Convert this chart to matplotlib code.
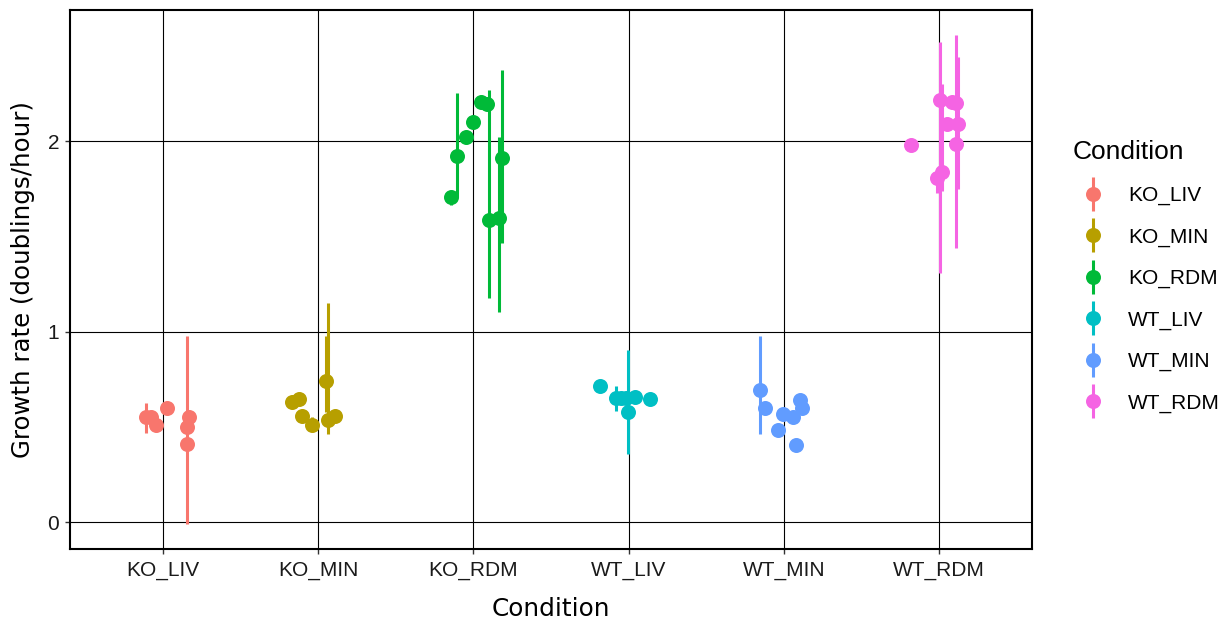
import numpy as np
import matplotlib
matplotlib.use("Agg")
import matplotlib.pyplot as plt
from matplotlib.lines import Line2D
from matplotlib.legend_handler import HandlerTuple

conditions = ["KO_LIV", "KO_MIN", "KO_RDM", "WT_LIV", "WT_MIN", "WT_RDM"]
colors = ["#F8766D", "#B79F00", "#00BA38", "#00BFC4", "#619CFF", "#F564E3"]
nan = np.nan

# per-condition: jitter offset, growth rate, lower, upper
ko_liv_dx = [-0.109, -0.077, -0.045, 0.028, 0.169, 0.153, 0.153]
ko_liv_y = [0.554, 0.552, 0.512, 0.600, 0.554, 0.500, 0.411]
ko_liv_lo = [0.469, nan, nan, nan, nan, -0.009, nan]
ko_liv_hi = [0.627, nan, nan, nan, nan, 0.977, nan]

ko_min_dx = [-0.167, -0.122, -0.105, -0.041, 0.051, 0.066, 0.109]
ko_min_y = [0.631, 0.647, 0.559, 0.510, 0.743, 0.537, 0.559]
ko_min_lo = [nan, nan, nan, 0.505, 0.580, 0.463, nan]
ko_min_hi = [nan, nan, nan, 0.555, 0.977, 1.149, nan]

ko_rdm_dx = [-0.143, -0.108, -0.047, -0.005, 0.050, 0.086, 0.098, 0.167, 0.182]
ko_rdm_y = [1.708, 1.923, 2.023, 2.099, 2.204, 2.193, 1.586, 1.595, 1.910]
ko_rdm_lo = [1.665, 1.708, nan, nan, nan, nan, 1.175, 1.102, 1.464]
ko_rdm_hi = [1.720, 2.251, nan, nan, nan, nan, 2.268, 2.023, 2.373]

wt_liv_dx = [-0.182, -0.084, -0.047, -0.016, -0.005, 0.039, 0.140]
wt_liv_y = [0.715, 0.651, 0.651, 0.651, 0.577, 0.659, 0.647]
wt_liv_lo = [nan, 0.584, nan, nan, 0.358, nan, nan]
wt_liv_hi = [nan, 0.715, nan, nan, 0.904, nan, nan]

wt_min_dx = [-0.150, -0.122, -0.037, -0.006, 0.060, 0.079, 0.107, 0.118]
wt_min_y = [0.694, 0.598, 0.484, 0.568, 0.551, 0.406, 0.642, 0.598]
wt_min_lo = [0.463, nan, nan, nan, nan, nan, nan, nan]
wt_min_hi = [0.977, nan, nan, nan, nan, nan, nan, nan]

wt_rdm_dx = [-0.182, 0.005, 0.017, -0.011, 0.053, 0.086, 0.107, 0.122, 0.107]
wt_rdm_y = [1.980, 2.216, 1.840, 1.805, 2.088, 2.207, 2.198, 2.088, 1.985]
wt_rdm_lo = [nan, 1.310, 1.740, 1.730, nan, nan, 1.440, 1.750, nan]
wt_rdm_hi = [nan, 2.521, 2.300, 1.830, nan, nan, 2.556, 2.440, nan]

groups = [
    (ko_liv_dx, ko_liv_y, ko_liv_lo, ko_liv_hi),
    (ko_min_dx, ko_min_y, ko_min_lo, ko_min_hi),
    (ko_rdm_dx, ko_rdm_y, ko_rdm_lo, ko_rdm_hi),
    (wt_liv_dx, wt_liv_y, wt_liv_lo, wt_liv_hi),
    (wt_min_dx, wt_min_y, wt_min_lo, wt_min_hi),
    (wt_rdm_dx, wt_rdm_y, wt_rdm_lo, wt_rdm_hi),
]

y_ticks = [0, 1, 2]

W, H = 1224, 619
fig = plt.figure(figsize=(W / 100, H / 100), dpi=100)
ax = fig.add_axes([70 / W, (H - 549) / H, (1032 - 70) / W, (549 - 10) / H])

ax.set_xlim(0.4, 6.6)
ax.set_ylim(-0.140, 2.688)

for i, (dx, y, lo, hi) in enumerate(groups):
    xs = np.arange(1, 7)[i] + np.array(dx)
    lo = np.array(lo, dtype=float)
    hi = np.array(hi, dtype=float)
    m = ~np.isnan(lo)
    ax.vlines(xs[m], lo[m], hi[m], color=colors[i], lw=2.2, zorder=3)
    ax.plot(xs, y, 'o', color=colors[i], ms=10.8, mew=0, zorder=4, ls='')

ax.set_xticks(range(1, 7))
ax.set_xticklabels(conditions, fontfamily="Liberation Sans", fontsize=15)
ax.set_yticks(y_ticks)
ax.set_yticklabels([str(v) for v in y_ticks], fontfamily="Liberation Sans", fontsize=15)
ax.grid(True, color="black", lw=0.8, zorder=1)
ax.set_axisbelow(True)
for s in ax.spines.values():
    s.set_color("black")
    s.set_linewidth(1.5)
ax.tick_params(length=3.8, width=1, color="#333333", labelcolor="#1a1a1a")
ax.tick_params(axis="x", pad=5)
ax.tick_params(axis="y", pad=4)

ax.set_xlabel("Condition", fontsize=17.8, fontfamily="DejaVu Sans", labelpad=12)
ax.set_ylabel("Growth rate (doublings/hour)", fontsize=17.6, fontfamily="DejaVu Sans", labelpad=9)

handles = []
for c in colors:
    handles.append((Line2D([], [], color=c, marker='|', ms=24, mew=2.2, ls=''),
                    Line2D([], [], color=c, marker='o', ms=10.8, mew=0, ls='')))
leg = fig.legend(handles, conditions, handler_map={tuple: HandlerTuple(ndivide=1)},
                 loc="upper left", bbox_to_anchor=(1054 / W, 1 - 121 / H),
                 frameon=False, title="Condition",
                 prop={"family": "Liberation Sans", "size": 15},
                 title_fontproperties={"family": "Liberation Sans", "size": 19},
                 labelspacing=1.07, handlelength=1.92, handletextpad=0.72,
                 alignment="left")

fig.savefig("out.png", dpi=100)
